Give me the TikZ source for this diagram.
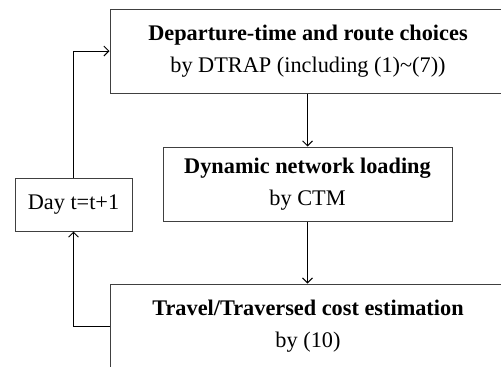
\documentclass[tikz,border=0pt]{standalone}
\usepackage{fontspec}
\setmainfont{Liberation Serif}
\usetikzlibrary{arrows.meta, positioning}
\tikzset{
    stagebox/.style={rectangle, draw=black!75, line width=1pt, minimum width=396pt,
                     minimum height=84pt, align=center, inner sep=0pt,
                     font=\fontsize{22.3}{31.5}\selectfont},
    daybox/.style={rectangle, draw=black!75, line width=1pt, minimum width=117pt,
                   minimum height=53pt, align=center, inner sep=0pt,
                   font=\fontsize{22.3}{25}\selectfont},
    arrow/.style={-{Straight Barb[length=5pt, width=10pt]}, line width=0.9pt},
}
\begin{document}
\begin{tikzpicture}[x=1pt, y=-1pt]
            \clip (0,0) rectangle (501,367);
            \node[stagebox] (choice) at (308, 51) {\textbf{Departure-time and route choices}\\by DTRAP (including (1)\textasciitilde(7))};
            \node[stagebox, minimum width=289pt, minimum height=74pt] (load) at (307.5, 184) {\textbf{Dynamic network loading}\\by CTM};
            \node[stagebox] (cost) at (308, 326) {\textbf{Travel/Traversed cost estimation}\\by (10)};
            \node[daybox] (day) at (73.5, 204.5) {Day t=t+1};
            
            \draw[arrow] (choice.south -| load.north) -- (load.north);
            \draw[arrow] (load.south) -- (load.south |- cost.north);
            \draw[arrow] (cost.west) -| (day.south);
            \draw[arrow] (day.north) |- (choice.west);
        \end{tikzpicture}
\end{document}
